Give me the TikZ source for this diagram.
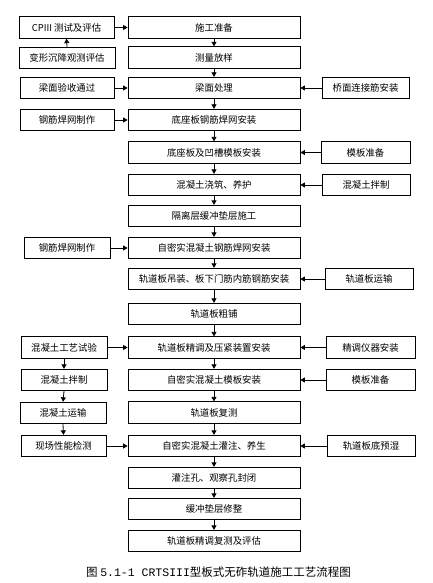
\documentclass[tikz,border=0pt]{standalone}
\usepackage{fontspec}
\newfontfamily\cjk{Noto Sans CJK SC}
\newfontfamily\capmono{Liberation Mono}
\usetikzlibrary{arrows.meta}
\begin{document}
\begin{tikzpicture}[x=1pt,y=-1pt,
  box/.style={draw=black,line width=0.8pt,minimum height=21.5pt,inner sep=0pt,font=\cjk\fontsize{9.4}{10}\selectfont},
  cbox/.style={box,minimum width=172pt},
  arr/.style={draw=black,line width=0.8pt,-{Triangle[length=4.5pt,width=5pt]}}]
\useasboundingbox (0,0) rectangle (432,583);
% centre column
\node[cbox] (c1) at (214,27.5) {施工准备};
\node[cbox] (c2) at (214,57.5) {测量放样};
\node[cbox] (c3) at (214,88) {梁面处理};
\node[cbox] (c4) at (214,120) {底座板钢筋焊网安装};
\node[cbox] (c5) at (214,152.5) {底座板及凹槽模板安装};
\node[cbox] (c6) at (214,185) {混凝土浇筑、养护};
\node[cbox] (c7) at (214,216) {隔离层缓冲垫层施工};
\node[cbox] (c8) at (214,248) {自密实混凝土钢筋焊网安装};
\node[cbox] (c9) at (214,279) {轨道板吊装、板下门筋内筋钢筋安装};
\node[cbox] (c10) at (214,314) {轨道板粗铺};
\node[cbox] (c11) at (214,347.5) {轨道板精调及压紧装置安装};
\node[cbox] (c12) at (214,380) {自密实混凝土模板安装};
\node[cbox] (c13) at (214,412.5) {轨道板复测};
\node[cbox] (c14) at (214,446) {自密实混凝土灌注、养生};
\node[cbox] (c15) at (214,478) {灌注孔、观察孔封闭};
\node[cbox] (c16) at (214,509) {缓冲垫层修整};
\node[cbox] (c17) at (214,541) {轨道板精调复测及评估};
\foreach \a/\b in {1/2,2/3,3/4,4/5,5/6,6/7,7/8,8/9,9/10,10/11,11/12,12/13,13/14,14/15,15/16,16/17}
  \draw[arr] (c\a.south) -- (c\b.north);
% left column
\node[box,minimum width=95pt] (l1) at (66.5,27.5) {CPIII 测试及评估};
\node[box,minimum width=96pt] (l2) at (67,58) {变形沉降观测评估};
\node[box,minimum width=94pt] (l3) at (67,88) {梁面验收通过};
\node[box,minimum width=94pt] (l4) at (67,120) {钢筋焊网制作};
\node[box,minimum width=86pt] (l5) at (67,248) {钢筋焊网制作};
\node[box,minimum width=86pt] (l6) at (64,347.5) {混凝土工艺试验};
\node[box,minimum width=86pt] (l7) at (64,380) {混凝土拌制};
\node[box,minimum width=86pt] (l8) at (63,413) {混凝土运输};
\node[box,minimum width=85pt] (l9) at (63.5,446) {现场性能检测};
\draw[arr] (l2.north) -- (l1.south);
\draw[arr] (l6.south) -- (l7.north);
\draw[arr] (l7.south) -- (l8.north);
\draw[arr] (l8.south) -- (l9.north);
\draw[arr] (l1.east) -- (c1.west);
\draw[arr] (l3.east) -- (c3.west);
\draw[arr] (l4.east) -- (c4.west);
\draw[arr] (l5.east) -- (c8.west);
\draw[arr] (l6.east) -- (c11.west);
\draw[arr] (l9.east) -- (c14.west);
% right column
\node[box,minimum width=87pt] (r1) at (365.5,88) {桥面连接筋安装};
\node[box,minimum width=89pt] (r2) at (365.5,152.5) {模板准备};
\node[box,minimum width=88pt] (r3) at (366,185) {混凝土拌制};
\node[box,minimum width=88pt] (r4) at (369,279) {轨道板运输};
\node[box,minimum width=89pt] (r5) at (370.5,347.5) {精调仪器安装};
\node[box,minimum width=89pt] (r6) at (370.5,380) {模板准备};
\node[box,minimum width=88pt] (r7) at (371,446) {轨道板底预湿};
\draw[arr] (r1.west) -- (c3.east);
\draw[arr] (r2.west) -- (c5.east);
\draw[arr] (r3.west) -- (c6.east);
\draw[arr] (r4.west) -- (c9.east);
\draw[arr] (r5.west) -- (c11.east);
\draw[arr] (r6.west) -- (c12.east);
\draw[arr] (r7.west) -- (c14.east);
% caption
\node[font=\cjk\fontsize{11.5}{13}\selectfont,inner sep=0pt,anchor=west] (cap) at (86,572) {图 {\capmono 5.1-1 CRTSIII}型板式无砟轨道施工工艺流程图};
\end{tikzpicture}
\end{document}
